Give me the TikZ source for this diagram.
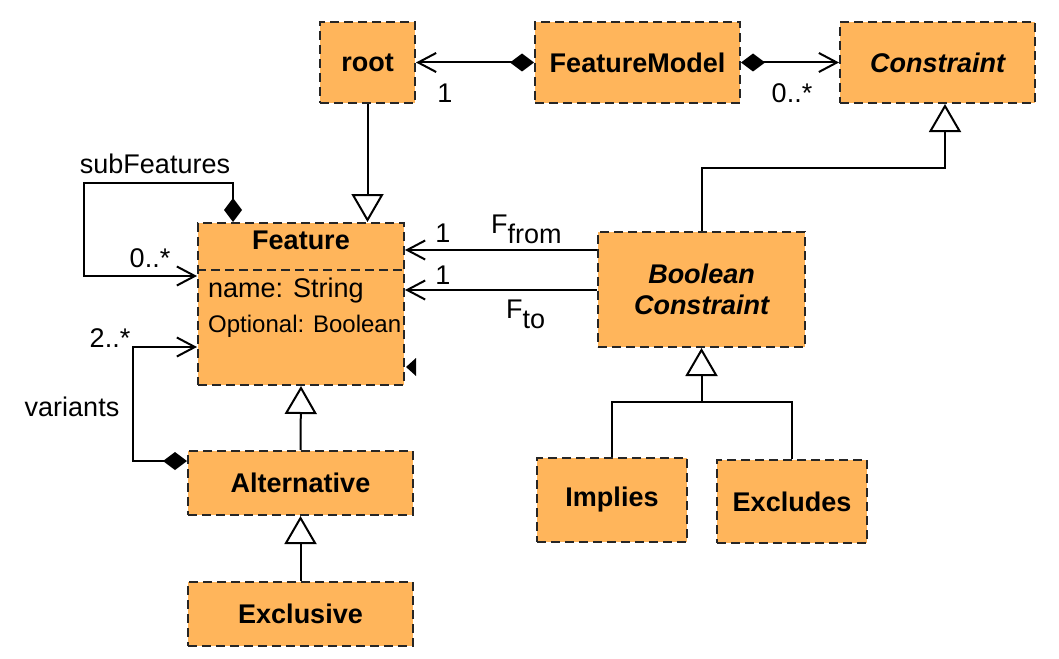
\documentclass[tikz,border=0pt]{standalone}
\usepackage{fontspec}
\setmainfont{Liberation Sans}
\usetikzlibrary{arrows.meta}
\definecolor{boxfill}{HTML}{FFB55B}
\begin{document}
\begin{tikzpicture}[x=1pt,y=-1pt,
  cls/.style={draw=black!85, fill=boxfill, line width=2pt,
    dash pattern=on 9pt off 5pt, inner sep=0pt, align=center,
    font=\bfseries\fontsize{27}{32}\selectfont},
  lbl/.style={inner sep=0pt, font=\fontsize{27}{32}\selectfont},
  conn/.style={line width=2pt, black},
  open/.style={conn, -{Straight Barb[length=18pt,width=19pt,line width=2pt]}},
  comp/.style={conn, {Diamond[length=24pt,width=18pt]}-{Straight Barb[length=18pt,width=19pt,line width=2pt]}},
  gen/.style={conn, -{Triangle[open,length=28pt,width=32pt,line width=2pt]}}
]
\useasboundingbox (0,0) rectangle (1059,658);

% classes
\node[cls, minimum width=95pt, minimum height=81pt] (root) at (367.5,62.5) {root};
\node[cls, minimum width=205pt, minimum height=81pt] (fm) at (637.5,62.5) {FeatureModel};
\node[cls, minimum width=195pt, minimum height=81pt] (con) at (937.5,62.5) {\itshape Constraint};
\node[cls, minimum width=206pt, minimum height=162pt] (feat) at (301,304) {};
\node[cls, minimum width=207pt, minimum height=115pt] (bc) at (701.5,289.5) {\itshape Boolean\\[-1pt]\itshape Constraint};
\node[cls, minimum width=225pt, minimum height=64pt] (alt) at (300.5,483) {Alternative};
\node[cls, minimum width=225pt, minimum height=64pt] (exc) at (300.5,614) {Exclusive};
\node[cls, minimum width=150pt, minimum height=84pt] (imp) at (612,500) {Implies};
\node[cls, minimum width=150pt, minimum height=83pt] (exl) at (792,501.5) {Excludes};

% Feature compartments
\node[font=\bfseries\fontsize{27}{32}\selectfont, inner sep=0pt] (ftitle) at (301,240) {Feature};
\draw[line width=2pt, black!85, dash pattern=on 9pt off 5pt] (feat.west |- 0,270) -- (feat.east |- 0,270);
\node[anchor=base west, inner sep=0pt, font=\fontsize{27}{32}\selectfont] (fname) at (208,297) {name: String};
\node[anchor=base west, inner sep=0pt, font=\fontsize{24}{28}\selectfont] (fopt) at (208,332) {Optional: Boolean};
\fill[black] (406,367) -- (416,358) -- (416,376) -- cycle;

% associations of FeatureModel
\draw[comp] (fm.west) -- (root.east);
\draw[comp] (fm.east) -- (con.west);
\node[lbl] (m1) at (445,93) {1};
\node[lbl] (m2) at (792,93) {0..*};

% generalizations
\draw[gen] (root.south) -- (feat.north -| root.south);
\coordinate (cj) at (945,168);
\draw[gen] (bc.north) |- (cj) -- (cj |- con.south);
\draw[gen] (alt.north) -- (feat.south);
\draw[gen] (exc.north) -- (alt.south);
\coordinate (bj) at (701.5,402);
\draw[gen] (imp.north) |- (bj) -- (bc.south);
\draw[conn] (exl.north) |- (bj);

% Boolean constraint references
\draw[open] (bc.west |- 0,250) -- (feat.east |- 0,250);
\draw[open] (bc.west |- 0,290) -- (feat.east |- 0,290);
\node[lbl] (m3) at (443,233) {1};
\node[lbl] (m4) at (443,275) {1};
\node[lbl, anchor=base west] (lfrom) at (491,233) {F\raisebox{-10pt}{from}};
\node[lbl, anchor=base west] (lto) at (506,318) {F\raisebox{-10pt}{to}};

% subFeatures
\coordinate (sf1) at (233,183);
\coordinate (sf2) at (84,183);
\coordinate (sf3) at (84,276);
\draw[comp] (feat.north -| sf1) -- (sf1) -- (sf2) -- (sf3) -- (feat.west |- sf3);
\node[lbl] (lsub) at (155,164) {subFeatures};
\node[lbl] (m5) at (150,258) {0..*};

% variants
\coordinate (v1) at (133,461);
\coordinate (v2) at (133,347);
\draw[comp] (alt.west |- v1) -- (v1) -- (v2) -- (feat.west |- v2);
\node[lbl] (m6) at (110,338) {2..*};
\node[lbl] (lvar) at (72,407) {variants};
\end{tikzpicture}
\end{document}
